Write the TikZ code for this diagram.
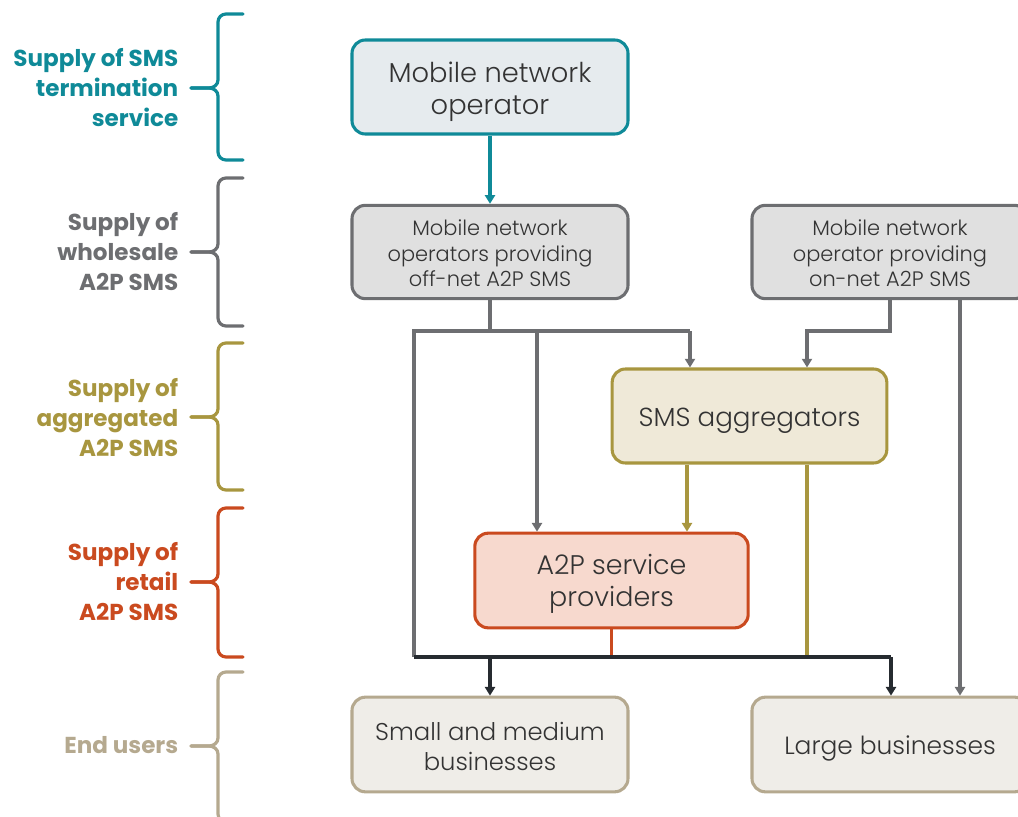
\documentclass[tikz,border=0pt]{standalone}
\usepackage{fontspec}
\setmainfont{Poppins}
\newfontfamily\lightfont{Poppins Light}
\usetikzlibrary{arrows.meta,calc}
\definecolor{cteal}{HTML}{0F8A98}
\definecolor{ctealfill}{HTML}{E6EBEE}
\definecolor{cgrey}{HTML}{6D6E71}
\definecolor{cgreyfill}{HTML}{E0E0E0}
\definecolor{colive}{HTML}{A8963F}
\definecolor{colivefill}{HTML}{EFE9D8}
\definecolor{cred}{HTML}{CA4A1F}
\definecolor{credfill}{HTML}{F7D9CE}
\definecolor{ctan}{HTML}{B5A98F}
\definecolor{ctanfill}{HTML}{EFEDE8}
\definecolor{cdark}{HTML}{262B30}
\definecolor{ctext}{HTML}{333333}
\tikzset{
  box/.style={draw, rounded corners=10pt, line width=2.3pt,
    minimum width=207pt, minimum height=70.5pt, inner sep=0pt},
  txt/.style={align=center, text=ctext, inner sep=0pt},
  conn/.style={line width=2.4pt},
  arr/.style={conn, -{Triangle[width=7.5pt,length=6.5pt]}},
  lab/.style={anchor=east, align=right, inner sep=0pt, font=\fontsize{17.3}{22.5}\selectfont\bfseries},
  brace/.style={line width=2.4pt, line cap=round},
}
\newcommand{\mybrace}[4]{% colour, top, mid, bottom
  \draw[brace,#1] (243,#2) -- (226,#2) to[out=180,in=90] (218,#2+8) -- (218,#3-8)
    to[out=-90,in=0] (209,#3) -- (191,#3);
  \draw[brace,#1] (191,#3) -- (209,#3) to[out=0,in=90] (218,#3+8) -- (218,#4-8)
    to[out=-90,in=180] (226,#4) -- (243,#4);
}
\begin{document}
\begin{tikzpicture}[x=0.75pt,y=-0.75pt]
\useasboundingbox (0,0) rectangle (1018,817);
% braces
\mybrace{cteal}{14}{88}{160}
\mybrace{cgrey}{178}{252}{326}
\mybrace{colive}{343}{417}{490}
\mybrace{cred}{508}{582}{657}
\mybrace{ctan}{672}{746}{822}
% labels
\node[lab,text=cteal] (l1) at (178.5,87.5) {Supply of SMS\\termination\\service};
\node[lab,text=cgrey] (l2) at (178.5,251.5) {Supply of\\wholesale\\A2P SMS};
\node[lab,text=colive] (l3) at (178.5,417.5) {Supply of\\aggregated\\A2P SMS};
\node[lab,text=cred] (l4) at (178.5,581.5) {Supply of\\retail\\A2P SMS};
\node[lab,text=ctan] (l5) at (178.5,745.5) {End users};
% boxes
\node[box, draw=cteal, fill=ctealfill] (mno) at (490,87) {};
\node[box, draw=cgrey, fill=cgreyfill, minimum height=70pt] (off) at (490,252) {};
\node[box, draw=cgrey, fill=cgreyfill, minimum height=70pt] (on) at (890,252) {};
\node[box, draw=colive, fill=colivefill, minimum width=206pt] (agg) at (749.5,416) {};
\node[box, draw=cred, fill=credfill, minimum width=205pt, minimum height=71pt] (a2p) at (611.5,580.5) {};
\node[box, draw=ctan, fill=ctanfill, minimum height=71pt] (smb) at (490,744.5) {};
\node[box, draw=ctan, fill=ctanfill, minimum height=71pt] (large) at (890,744.5) {};
% box texts
\node[txt, font=\lightfont\fontsize{20.5}{24}\selectfont] (mnot) at ($(mno)+(0,4.5)$) {Mobile network\\operator};
\node[txt, font=\lightfont\fontsize{15.7}{19.2}\selectfont] (offt) at ($(off)+(0,1.5)$) {Mobile network\\operators providing\\off-net A2P SMS};
\node[txt, font=\lightfont\fontsize{15.7}{19.2}\selectfont] (ont) at ($(on)+(0,1.5)$) {Mobile network\\operator providing\\on-net A2P SMS};
\node[txt, font=\lightfont\fontsize{19.6}{24}\selectfont] (aggt) at ($(agg)+(0,4.5)$) {SMS aggregators};
\node[txt, font=\lightfont\fontsize{20.2}{24}\selectfont] (a2pt) at ($(a2p)+(0,3)$) {A2P service\\providers};
\node[txt, font=\lightfont\fontsize{18.2}{22.5}\selectfont] (smbt) at ($(smb)+(0,1.5)$) {Small and medium\\businesses};
\node[txt, font=\lightfont\fontsize{18.7}{22.5}\selectfont] (larget) at ($(large)+(0,3.5)$) {Large businesses};
% coordinates
\coordinate (gl) at (414,331);
\coordinate (gr) at (690,331);
\coordinate (bl) at (414,657);
\coordinate (br) at (891,657);
% connectors
\draw[arr,cteal] (mno.south) -- (off.north);
\draw[conn,cgrey] (off.south) -- (off.south |- gl);
\draw[conn,cgrey] (bl) -- (gl) -- (gr);
\draw[arr,cgrey] (gr) -- (gr |- agg.north);
\draw[arr,cgrey] (537,331) -- (537,0 |- a2p.north);
\draw[arr,cgrey] (on.south) -- (on.south |- gl) -- (807,331) -- (807,0 |- agg.north);
\draw[arr,cgrey] ($(on.south)+(70,0)$) -- ($(large.north)+(70,0)$);
\draw[arr,colive] ($(agg.south)+(-62.5,0)$) -- (687,0 |- a2p.north);
\draw[conn,colive] (807,0 |- agg.south) -- (807,657);
\draw[conn,cred] (a2p.south) -- (a2p.south |- bl);
\draw[conn,cdark] (bl) -- (br);
\draw[arr,cdark] (490,657) -- (smb.north);
\draw[arr,cdark] (br) -- (br |- large.north);
\end{tikzpicture}
\end{document}
